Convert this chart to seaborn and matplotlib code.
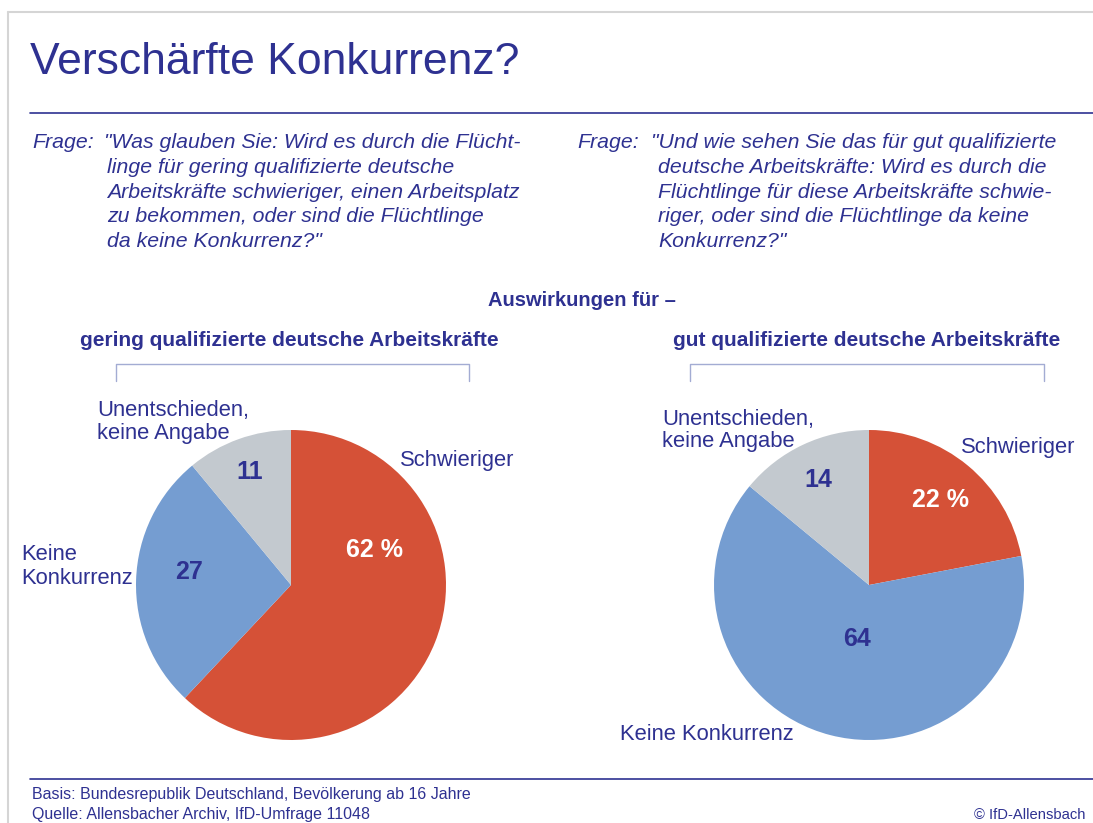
import matplotlib
matplotlib.use("Agg")
import matplotlib.pyplot as plt
import seaborn as sns
from matplotlib.lines import Line2D

sns.set_theme(style="white")
plt.rcParams['font.family'] = ['DejaVu Sans']

# ---- data ----
categories = ["Schwieriger", "Keine Konkurrenz", "Unentschieden, keine Angabe"]
gering_values = [62, 27, 11]
gut_values = [22, 64, 14]
value_labels_gering = ["62 %", "27", "11"]
value_labels_gut = ["22 %", "64", "14"]

title = "Verschärfte Konkurrenz?"
question_left = ['"Was glauben Sie: Wird es durch die Flücht-',
                 'linge für gering qualifizierte deutsche',
                 'Arbeitskräfte schwieriger, einen Arbeitsplatz',
                 'zu bekommen, oder sind die Flüchtlinge',
                 'da keine Konkurrenz?"']
question_right = ['"Und wie sehen Sie das für gut qualifizierte',
                  'deutsche Arbeitskräfte: Wird es durch die',
                  'Flüchtlinge für diese Arbeitskräfte schwie-',
                  'riger, oder sind die Flüchtlinge da keine',
                  'Konkurrenz?"']
supertitle = "Auswirkungen für –"
subtitle_left = "gering qualifizierte deutsche Arbeitskräfte"
subtitle_right = "gut qualifizierte deutsche Arbeitskräfte"
footer1 = "Basis: Bundesrepublik Deutschland, Bevölkerung ab 16 Jahre"
footer2 = "Quelle: Allensbacher Archiv, IfD-Umfrage 11048"
copyright_text = "© IfD-Allensbach"

# ---- style ----
W, H = 1093, 823
NAVY = "#2E3191"
colors = ["#D55137", "#759DD1", "#C3C9CF"]
value_colors = ["white", NAVY, NAVY]
FONT = ['Liberation Sans', 'DejaVu Sans']

fig = plt.figure(figsize=(W / 100, H / 100), dpi=100)
fig.patch.set_facecolor("white")


def P(x, y):
    return x / W, 1 - y / H


def txt(x, y, s, size, **kw):
    kw.setdefault("color", NAVY)
    kw.setdefault("va", "center")
    kw.setdefault("family", FONT)
    fig.text(*P(x, y), s, fontsize=size, **kw)


def hline(x0, x1, y, color=NAVY, lw=1.2):
    fig.add_artist(Line2D([x0 / W, x1 / W], [1 - y / H, 1 - y / H],
                          transform=fig.transFigure, color=color, lw=lw))


def seg(xs, ys, color, lw=1.0):
    fig.add_artist(Line2D([x / W for x in xs], [1 - y / H for y in ys],
                          transform=fig.transFigure, color=color, lw=lw))


# border
seg([8, 1093], [12, 12], "#D5D5D5", 1.5)
seg([8, 8], [12, 823], "#D5D5D5", 1.5)

# title
txt(30, 62, title, 32)
hline(30, 1093, 113)

# questions
QS = 15.3
line_y = [143, 167.5, 192, 216.5, 241]
txt(32, line_y[0], "Frage:", QS, style="italic")
for i, s in enumerate(question_left):
    txt(104 if i == 0 else 107, line_y[i], s, QS, style="italic")
txt(577, line_y[0], "Frage:", QS, style="italic")
for i, s in enumerate(question_right):
    txt(651 if i == 0 else 658, line_y[i], s, QS, style="italic")

# headers
txt(582, 300, supertitle, 14.5, ha="center", weight="bold")
txt(289, 340, subtitle_left, 15, ha="center", weight="bold")
txt(867, 340, subtitle_right, 15, ha="center", weight="bold")

BR = "#A3ACD3"
seg([116, 116, 469, 469], [381, 364, 364, 381], BR, 1.0)
seg([690, 690, 1044, 1044], [381, 364, 364, 381], BR, 1.0)


def draw_pie(cx, cy, r, values):
    ax = fig.add_axes([(cx - r) / W, 1 - (cy + r) / H, 2 * r / W, 2 * r / H])
    ax.pie(values, colors=colors, startangle=90, counterclock=False,
           radius=1, wedgeprops=dict(linewidth=0))
    ax.set_xlim(-1, 1)
    ax.set_ylim(-1, 1)
    ax.set_aspect("equal")
    ax.axis("off")
    return ax


ax1 = draw_pie(291, 585, 155, gering_values)
ax2 = draw_pie(869, 585, 155, gut_values)

# value labels
VS = 18
for (x, y), s, c in zip([(375, 550), (189, 572), (250, 472)], value_labels_gering, value_colors):
    txt(x, y, s, VS, ha="center", weight="bold", color=c)
for (x, y), s, c in zip([(941, 500), (857, 639), (818, 480)], value_labels_gut, value_colors):
    txt(x, y, s, VS, ha="center", weight="bold", color=c)

# category labels
LS = 15.8
txt(97, 411, "Unentschieden,", LS)
txt(97, 433, "keine Angabe", LS)
txt(400, 461, "Schwieriger", LS)
txt(21, 554, "Keine", LS)
txt(21, 578, "Konkurrenz", LS)
txt(662, 420, "Unentschieden,", LS)
txt(662, 441, "keine Angabe", LS)
txt(961, 448, "Schwieriger", LS)
txt(620, 735, "Keine Konkurrenz", LS)

# footer
hline(30, 1093, 779)
txt(32, 794, footer1, 11.5)
txt(32, 815, footer2, 11.5)
txt(1085, 815, copyright_text, 10.6, ha="right")

fig.savefig("out.png", dpi=100, facecolor="white")
